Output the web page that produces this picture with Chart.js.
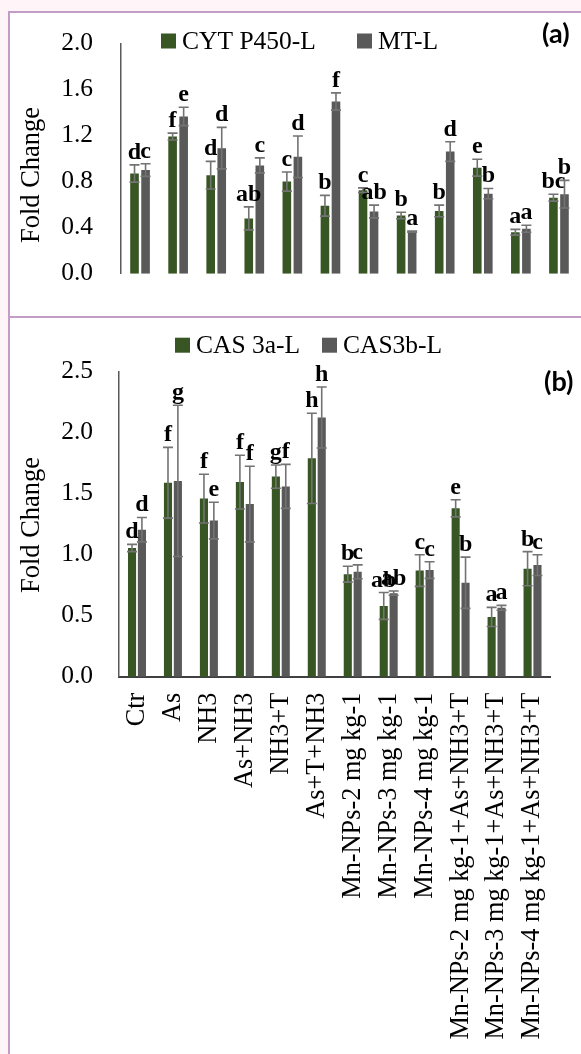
<!DOCTYPE html>
<html>
<head>
<meta charset="utf-8">
<title>Fold Change</title>
<script src="https://cdn.jsdelivr.net/npm/chart.js@4.4.1/dist/chart.umd.min.js"></script>
<style>
    html, body {
        margin: 0;
        padding: 0;
        background: #fff4f8;
    }

    body {
        width: 581px;
        height: 1054px;
        position: relative;
        overflow: hidden;
    }

    #marco {
        position: absolute;
        left: 8px;
        top: 11px;
        right: -10px;
        bottom: -10px;
        background: #ffffff;
        border-left: 2px solid #c39cc8;
        border-top: 2px solid #c39cc8;
    }

    #separador {
        position: absolute;
        left: 10px;
        right: 0;
        top: 316px;
        height: 2px;
        background: #c39cc8;
    }

    canvas {
        position: absolute;
        left: 0;
    }

    #graficaA { top: 0; }
    #graficaB { top: 318px; }
</style>
</head>
<body>
<div id="marco"></div>
<div id="separador"></div>
<canvas id="graficaA" width="581" height="317"></canvas>
<canvas id="graficaB" width="581" height="736"></canvas>

<script>
const categorias = [
    'Ctr', 'As', 'NH3', 'As+NH3', 'NH3+T', 'As+T+NH3',
    'Mn-NPs-2 mg kg-1', 'Mn-NPs-3 mg kg-1', 'Mn-NPs-4 mg kg-1',
    'Mn-NPs-2 mg kg-1+As+NH3+T', 'Mn-NPs-3 mg kg-1+As+NH3+T', 'Mn-NPs-4 mg kg-1+As+NH3+T'
];

const ticksA = [0, 0.4, 0.8, 1.2, 1.6, 2.0];
const ticksB = [0, 0.5, 1.0, 1.5, 2.0, 2.5];

// (a) CYT P450-L / MT-L
const cytP450 = [0.87, 1.19, 0.855, 0.48, 0.80, 0.59, 0.725, 0.505, 0.545, 0.92, 0.36, 0.66];
const cytP450Err = [0.075, 0.03, 0.12, 0.10, 0.083, 0.09, 0.02, 0.028, 0.05, 0.073, 0.025, 0.03];
const cytP450Letras = ['d', 'f', 'd', 'ab', 'c', 'b', 'c', 'b', 'b', 'e', 'a', 'bc'];

const mt = [0.90, 1.365, 1.09, 0.94, 1.015, 1.495, 0.54, 0.365, 1.06, 0.695, 0.39, 0.69];
const mtErr = [0.055, 0.08, 0.18, 0.065, 0.18, 0.075, 0.055, 0.005, 0.085, 0.045, 0.03, 0.12];
const mtLetras = ['c', 'e', 'd', 'c', 'd', 'f', 'ab', 'a', 'd', 'b', 'a', 'b'];

// (b) CAS 3a-L / CAS3b-L
const cas3a = [1.055, 1.59, 1.46, 1.595, 1.64, 1.79, 0.84, 0.58, 0.87, 1.38, 0.49, 0.885];
const cas3aErr = [0.03, 0.29, 0.20, 0.22, 0.095, 0.37, 0.065, 0.11, 0.13, 0.07, 0.078, 0.14];
const cas3aLetras = ['d', 'f', 'f', 'f', 'g', 'h', 'b', 'ab', 'c', 'e', 'a', 'b'];

const cas3b = [1.205, 1.605, 1.28, 1.415, 1.56, 2.125, 0.86, 0.685, 0.874, 0.77, 0.565, 0.915];
const cas3bErr = [0.10, 0.62, 0.15, 0.31, 0.18, 0.25, 0.057, 0.017, 0.068, 0.21, 0.02, 0.085];
const cas3bLetras = ['d', 'g', 'e', 'f', 'f', 'h', 'c', 'ab', 'c', 'b', 'a', 'c'];

const VERDE = '#375623';
const GRIS = '#595959';
const COLOR_ERROR = '#737373';
const SERIF = "'Liberation Serif', 'Times New Roman', serif";

// barras de error, letras, leyenda, titulo del eje y etiqueta del panel
const extras = {
    id: 'extras',
    afterDatasetsDraw(chart, args, opts) {
        const ctx = chart.ctx;
        const escalaY = chart.scales.y;

        chart.data.datasets.forEach((ds, i) => {
            const meta = chart.getDatasetMeta(i);

            meta.data.forEach((barra, j) => {
                const v = ds.data[j];
                const e = ds.errores[j];
                const yArriba = escalaY.getPixelForValue(v + e);
                const yAbajo = escalaY.getPixelForValue(v - e);

                ctx.save();
                ctx.strokeStyle = COLOR_ERROR;
                ctx.lineWidth = 1.6;
                ctx.beginPath();
                ctx.moveTo(barra.x, yArriba);
                ctx.lineTo(barra.x, yAbajo);
                ctx.moveTo(barra.x - 5, yArriba);
                ctx.lineTo(barra.x + 5, yArriba);
                ctx.moveTo(barra.x - 5, yAbajo);
                ctx.lineTo(barra.x + 5, yAbajo);
                ctx.stroke();

                ctx.fillStyle = '#000000';
                ctx.font = `bold 24px ${SERIF}`;
                ctx.textAlign = 'center';
                ctx.textBaseline = 'alphabetic';
                ctx.fillText(ds.letras[j], barra.x, yArriba - 6);
                ctx.restore();
            });
        });

        ctx.save();

        // leyenda
        chart.data.datasets.forEach((ds, i) => {
            const item = opts.leyenda[i];
            ctx.fillStyle = ds.backgroundColor;
            ctx.fillRect(item.x, opts.leyendaY - 15, 15, 15);
            ctx.fillStyle = '#000000';
            ctx.font = `25.5px ${SERIF}`;
            ctx.textAlign = 'left';
            ctx.textBaseline = 'alphabetic';
            ctx.fillText(ds.label, item.x + 21, opts.leyendaY);
        });

        // titulo del eje
        ctx.translate(38.5, opts.tituloY);
        ctx.rotate(-Math.PI / 2);
        ctx.fillStyle = '#000000';
        ctx.font = `26.5px ${SERIF}`;
        ctx.textAlign = 'center';
        ctx.textBaseline = 'alphabetic';
        ctx.fillText('Fold Change', 0, 0);
        ctx.restore();

        // etiqueta del panel
        ctx.save();
        ctx.fillStyle = '#000000';
        ctx.font = "bold 27px Lato, 'Open Sans', sans-serif";
        ctx.textAlign = 'left';
        ctx.textBaseline = 'middle';
        ctx.fillText(opts.panel, opts.panelX, opts.panelY);
        ctx.restore();
    }
};

function opcionesEjeY(max, ticks, ancho, padding) {
    return {
        min: 0,
        max: max,
        afterBuildTicks: escala => {
            escala.ticks = ticks.map(v => ({ value: v }));
        },
        afterFit: escala => {
            escala.width = ancho;
        },
        grid: {
            display: false,
            drawTicks: false
        },
        border: {
            color: '#595959',
            width: 1.5
        },
        ticks: {
            padding: padding,
            color: '#000000',
            font: {
                family: SERIF,
                size: 25.5
            },
            callback: v => Number(v).toFixed(1)
        }
    };
}

const graficaA = new Chart(document.getElementById('graficaA'), {
    type: 'bar',
    data: {
        labels: categorias,
        datasets: [{
            label: 'CYT P450-L',
            data: cytP450,
            errores: cytP450Err,
            letras: cytP450Letras,
            backgroundColor: VERDE,
            categoryPercentage: 0.58,
            barPercentage: 0.78
        }, {
            label: 'MT-L',
            data: mt,
            errores: mtErr,
            letras: mtLetras,
            backgroundColor: GRIS,
            categoryPercentage: 0.58,
            barPercentage: 0.78
        }]
    },
    options: {
        responsive: false,
        animation: false,
        layout: {
            padding: { left: 11, right: 3, top: 29.5, bottom: 27 }
        },
        plugins: {
            legend: { display: false },
            tooltip: { enabled: false },
            extras: {
                leyenda: [{ x: 161 }, { x: 357 }],
                leyendaY: 48.5,
                tituloY: 175,
                panel: '(a)',
                panelX: 542,
                panelY: 34
            }
        },
        scales: {
            x: {
                grid: { display: false },
                border: { display: false },
                ticks: { display: false },
                afterFit: escala => {
                    escala.height = 0;
                }
            },
            y: opcionesEjeY(2.0, ticksA, 110, 28)
        }
    },
    plugins: [extras]
});

const graficaB = new Chart(document.getElementById('graficaB'), {
    type: 'bar',
    data: {
        labels: categorias,
        datasets: [{
            label: 'CAS 3a-L',
            data: cas3a,
            errores: cas3aErr,
            letras: cas3aLetras,
            backgroundColor: VERDE,
            categoryPercentage: 0.55,
            barPercentage: 0.82
        }, {
            label: 'CAS3b-L',
            data: cas3b,
            errores: cas3bErr,
            letras: cas3bLetras,
            backgroundColor: GRIS,
            categoryPercentage: 0.55,
            barPercentage: 0.82
        }]
    },
    options: {
        responsive: false,
        animation: false,
        layout: {
            padding: { left: 11, right: 22, top: 53.7, bottom: 0 }
        },
        plugins: {
            legend: { display: false },
            tooltip: { enabled: false },
            extras: {
                leyenda: [{ x: 175 }, { x: 322 }],
                leyendaY: 34.7,
                tituloY: 207,
                panel: '(b)',
                panelX: 544,
                panelY: 64
            }
        },
        scales: {
            x: {
                grid: { display: false, drawTicks: false },
                border: {
                    color: '#404040',
                    width: 2
                },
                ticks: {
                    autoSkip: false,
                    minRotation: 90,
                    maxRotation: 90,
                    padding: 16,
                    color: '#000000',
                    font: {
                        family: SERIF,
                        size: 26.3
                    }
                },
                afterFit: escala => {
                    escala.height = 377.3;
                }
            },
            y: opcionesEjeY(2.5, ticksB, 108, 26)
        }
    },
    plugins: [extras]
});
</script>
</body>
</html>
